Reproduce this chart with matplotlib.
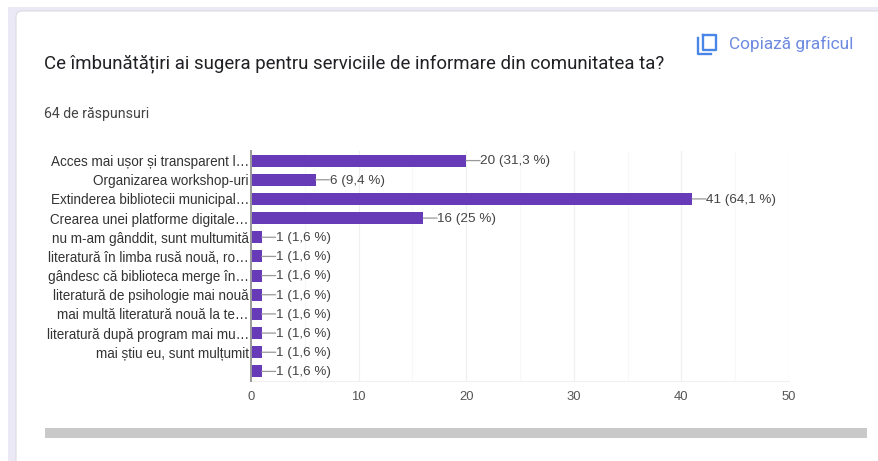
import matplotlib
matplotlib.use("Agg")
import matplotlib.pyplot as plt
from matplotlib.lines import Line2D
from matplotlib.patches import Rectangle, FancyBboxPatch
from matplotlib.transforms import Affine2D

categorii = ["Acces mai ușor și transparent l…", "Organizarea workshop-uri",
             "Extinderea bibliotecii municipal…", "Crearea unei platforme digitale…",
             "nu m-am gânddit, sunt multumită", "literatură în limba rusă nouă, ro…",
             "gândesc că biblioteca merge în…", "literatură de psihologie mai nouă",
             "mai multă literatură nouă la te…", "literatură după program mai mu…",
             "mai știu eu, sunt mulțumit", ""]
valori = [20, 6, 41, 16, 1, 1, 1, 1, 1, 1, 1, 1]
procente = ["31,3", "9,4", "64,1", "25", "1,6", "1,6", "1,6", "1,6", "1,6", "1,6", "1,6", "1,6"]
x_ticks = [0, 10, 20, 30, 40, 50]

W, H = 879, 461
plt.rcParams['font.family'] = ['Liberation Sans', 'DejaVu Sans']

fig = plt.figure(figsize=(W / 100, H / 100), dpi=100, facecolor="white")
px_tr = Affine2D().scale(1, -1).translate(0, H)

# helper: pixeli -> coordonate figura
def px(x, y):
    return x / W, 1 - y / H

# fundal si card
fig.patches.append(Rectangle((8, 7), 871, 454, transform=px_tr, color="#ece9f6", lw=0))
fig.patches.append(FancyBboxPatch((16, 11), 880, 470, boxstyle="round,pad=0,rounding_size=6",
                                  transform=px_tr, fc="white", ec="#dcdae2", lw=0.8))

# scrollbar
fig.patches.append(Rectangle((45, 428), 822, 9.5, transform=px_tr, color="#c9c9c9", lw=0))

# iconita copiere
fig.add_artist(Line2D([703, 715.5, 715.5, 703, 703], [35, 35, 50, 50, 35], transform=px_tr,
                      color="#4a86e8", lw=1.7))
fig.add_artist(Line2D([698, 698, 711], [38, 54, 54], transform=px_tr, color="#4a86e8", lw=1.7))

fig.text(*px(44, 64), "Ce îmbunătățiri ai sugera pentru serviciile de informare din comunitatea ta?",
         family=['Roboto', 'DejaVu Sans'], fontsize=13.45, color="#202124", va="center")
fig.text(*px(44, 114), "64 de răspunsuri", family=['Roboto', 'DejaVu Sans'], fontsize=10.2, color="#444444", va="center")
fig.text(*px(729, 44), "Copiază graficul", family=['Roboto', 'DejaVu Sans'], fontsize=12.4,
         color="#6d8ae0", va="center")

ax = fig.add_axes([251 / W, 1 - 381 / H, 538 / W, 230 / H], facecolor="none", zorder=5)
y = list(range(len(categorii)))
ax.barh(y, valori, height=0.63, color="#673ab7", zorder=3)
ax.set_xlim(0, 50)
ax.set_ylim(len(categorii) - 0.5, -0.5)
ax.set_xticks(x_ticks)
ax.set_xticks([5, 15, 25, 35, 45], minor=True)
ax.set_yticks(y)
ax.set_yticklabels(categorii, fontsize=9.75, color="#333333")
ax.tick_params(axis="y", length=0, pad=1.5)
ax.tick_params(axis="x", which="both", length=0, labelsize=9.4, labelcolor="#555555", pad=7)
ax.grid(axis="x", which="major", color="#f0f0f0", lw=0.9, zorder=0)
ax.grid(axis="x", which="minor", color="#f8f8f8", lw=0.8, zorder=0)
for s in ["top", "right"]:
    ax.spines[s].set_visible(False)
ax.spines["bottom"].set_color("#f0f0f0")
ax.spines["left"].set_color("#999999")
ax.spines["left"].set_linewidth(1.4)
ax.spines["left"].set_zorder(4)

for i, (v, p) in enumerate(zip(valori, procente)):
    ax.annotate("", xy=(v, i), xytext=(10, 0), textcoords="offset points",
                arrowprops=dict(arrowstyle="-", color="#999999", lw=0.9, shrinkA=0, shrinkB=0))
    ax.annotate(f"{v} ({p} %)", xy=(v, i), xytext=(10.2, -0.6), textcoords="offset points",
                fontsize=9.7, color="#444444", va="center", zorder=5)

fig.savefig("out.png", dpi=100)
